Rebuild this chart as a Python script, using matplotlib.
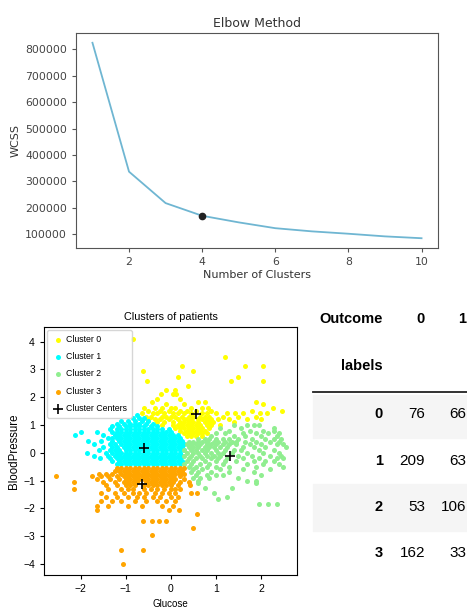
import matplotlib
matplotlib.use("Agg")
import matplotlib.pyplot as plt
from matplotlib.patches import Rectangle
from matplotlib.lines import Line2D

# ---------- data ----------
n_clusters = [1, 2, 3, 4, 5, 6, 7, 8, 9, 10]
wcss = [825000, 337000, 218000, 170000, 145000, 123000, 111000, 102000, 92000, 85000]
elbow_k = 4

# scatter points: {BloodPressure: [Glucose, ...]}
cluster0_rows = {
    4.08: [-0.84],
    3.45: [1.2],
    3.13: [0.24, 1.64, 2.05],
    2.94: [-0.61, 0.5],
    2.73: [0.16, 1.48],
    2.58: [-0.54, 1.33, 2.05],
    2.41: [0.37],
    2.25: [-0.1, 0.08],
    2.1: [-0.21, 0.05, 0.12],
    1.95: [-0.32, 0.2],
    1.83: [-0.43, 0.61, 0.76, 1.88],
    1.75: [-0.1, 0.3, 2.04],
    1.6: [-0.6, -0.35, -0.2, 0.0, 0.1, 0.45, 0.68, 0.82, 2.26],
    1.5: [-0.5, -0.25, -0.05, 0.2, 0.35, 0.55, 0.9, 1.79, 2.46],
    1.42: [-0.65, -0.4, -0.3, -0.15, 0.05, 0.15, 0.3, 0.45, 0.7, 0.8, 1.01, 1.24, 1.42, 1.61, 1.98, 2.14],
    1.3: [-0.55, -0.45, -0.2, -0.1, 0.0, 0.1, 0.25, 0.4, 0.5, 0.65, 0.75, 0.85, 1.16, 1.5, 1.9],
    1.2: [-0.5, -0.35, -0.25, -0.05, 0.15, 0.3, 0.35, 0.45, 0.6, 0.7, 0.8, 0.9, 1.05, 1.3, 1.7, 2.0],
    1.1: [-0.3, -0.15, 0.05, 0.2, 0.3, 0.4, 0.5, 0.6, 0.75, 0.85, 0.94, 1.4],
    1.0: [-0.2, 0.05, 0.15, 0.25, 0.35, 0.45, 0.55, 0.65, 0.8, 0.9, 1.1],
    0.9: [0.1, 0.2, 0.3, 0.4, 0.5, 0.6, 0.7, 0.85],
    0.8: [0.2, 0.35, 0.45, 0.55, 0.65, 0.75],
    0.7: [0.3, 0.4, 0.5, 0.6, 0.7, 0.8],
    0.6: [0.35, 0.45, 0.55, 0.7],
}
cluster1_rows = {
    1.35: [-0.75],
    1.25: [-0.85, -0.7, -0.6],
    1.15: [-1.1, -0.95, -0.8, -0.65, -0.5],
    1.05: [-1.2, -1.05, -0.9, -0.8, -0.7, -0.55, -0.4],
    0.95: [-1.3, -1.15, -1.0, -0.9, -0.8, -0.7, -0.6, -0.45, -0.3],
    0.85: [-1.35, -1.2, -1.1, -1.0, -0.9, -0.8, -0.7, -0.6, -0.5, -0.4, -0.3, -0.2, -0.05],
    0.76: [-2.0, -1.65, -1.3, -1.2, -1.1, -1.0, -0.9, -0.8, -0.7, -0.6, -0.5, -0.4, -0.3, -0.2, -0.1, 0.0],
    0.64: [-2.13, -1.5, -1.25, -1.15, -1.05, -0.95, -0.85, -0.75, -0.65, -0.55, -0.45, -0.35, -0.25, -0.15, -0.05, 0.05, 0.15],
    0.52: [-1.4, -1.3, -1.2, -1.1, -1.0, -0.9, -0.8, -0.7, -0.6, -0.5, -0.4, -0.3, -0.2, -0.1, 0.0, 0.1, 0.2],
    0.42: [-1.84, -1.55, -1.3, -1.15, -1.05, -0.95, -0.85, -0.75, -0.65, -0.55, -0.45, -0.35, -0.25, -0.15, -0.05, 0.05, 0.15, 0.25],
    0.3: [-1.7, -1.35, -1.25, -1.1, -1.0, -0.9, -0.8, -0.7, -0.6, -0.5, -0.4, -0.3, -0.2, -0.1, 0.0, 0.1, 0.2, 0.3],
    0.2: [-1.5, -1.3, -1.2, -1.05, -0.95, -0.85, -0.75, -0.65, -0.55, -0.45, -0.35, -0.25, -0.15, -0.05, 0.05, 0.15, 0.25],
    0.1: [-1.6, -1.35, -1.25, -1.15, -1.0, -0.9, -0.8, -0.7, -0.6, -0.5, -0.4, -0.3, -0.2, -0.1, 0.0, 0.1, 0.2, 0.3],
    0.0: [-1.86, -1.45, -1.3, -1.2, -1.1, -1.0, -0.9, -0.8, -0.7, -0.6, -0.5, -0.4, -0.3, -0.2, -0.1, 0.0, 0.1, 0.2],
    -0.1: [-1.7, -1.4, -1.25, -1.15, -1.05, -0.95, -0.85, -0.75, -0.65, -0.55, -0.45, -0.35, -0.25, -0.15, -0.05, 0.05, 0.15, 0.25],
    -0.2: [-1.58, -1.35, -1.2, -1.1, -1.0, -0.9, -0.8, -0.7, -0.6, -0.5, -0.4, -0.3, -0.2, -0.1, 0.0, 0.1, 0.2],
    -0.3: [-1.3, -1.15, -1.05, -0.95, -0.85, -0.75, -0.65, -0.55, -0.45, -0.35, -0.25, -0.15, -0.05, 0.05, 0.15, 0.25],
    -0.4: [-1.2, -1.1, -1.0, -0.9, -0.8, -0.7, -0.6, -0.5, -0.4, -0.3, -0.2, -0.1, 0.0, 0.1, 0.2],
}
cluster2_rows = {
    1.0: [1.4, 1.7, 1.85, 1.95],
    0.9: [1.1, 1.55, 2.3],
    0.8: [1.3, 1.75, 2.05, 2.3],
    0.7: [1.0, 1.2, 1.6, 1.9, 2.15, 2.4],
    0.6: [0.9, 1.4, 1.65, 2.0, 2.35],
    0.5: [0.6, 0.75, 0.85, 1.0, 1.15, 1.3, 1.5, 1.8, 2.1, 2.3, 2.45],
    0.4: [0.4, 0.5, 0.6, 0.7, 0.8, 0.95, 1.05, 1.2, 1.35, 1.45, 1.65, 1.9, 2.2, 2.4],
    0.3: [0.35, 0.45, 0.55, 0.65, 0.8, 0.9, 1.0, 1.15, 1.3, 1.45, 1.75, 2.0, 2.35, 2.5],
    0.2: [0.4, 0.5, 0.6, 0.75, 0.85, 0.95, 1.1, 1.25, 1.6, 1.85, 2.1, 2.55],
    0.1: [0.3, 0.45, 0.55, 0.7, 0.8, 1.0, 1.2, 1.4, 1.55, 1.95, 2.3],
    0.0: [0.35, 0.5, 0.6, 0.75, 0.9, 1.05, 1.15, 1.35, 1.7, 2.05, 2.4],
    -0.1: [0.3, 0.45, 0.65, 0.8, 0.95, 1.1, 1.5, 1.8, 2.2, 2.45],
    -0.2: [0.4, 0.55, 0.7, 0.9, 1.05, 1.25, 1.6, 1.95, 2.35, 2.5],
    -0.3: [0.35, 0.5, 0.75, 1.0, 1.2, 1.45, 1.85, 2.1, 2.3],
    -0.4: [0.3, 0.45, 0.65, 0.85, 1.15, 1.7, 2.05, 2.4],
    -0.5: [0.4, 0.55, 0.8, 1.0, 1.3, 1.9, 2.5],
    -0.6: [0.5, 0.7, 1.1, 1.6, 2.2],
    -0.7: [0.45, 0.6, 0.9, 1.3, 1.85],
    -0.8: [0.55, 0.8, 1.0, 1.15, 2.0],
    -0.9: [0.5, 0.65, 0.85, 1.5],
    -1.0: [0.6, 1.7, 1.9],
    -1.1: [0.6, 1.9],
    -1.25: [0.75, 1.35],
    -1.45: [0.95],
    -1.6: [1.25],
    -1.65: [1.05],
    -1.85: [1.95, 2.15, 2.35],
}
cluster3_rows = {
    -0.55: [-1.2, -1.1, -1.0, -0.9, -0.8, -0.7, -0.6, -0.5, -0.4, -0.3, -0.2, -0.1, 0.0, 0.1, 0.2, 0.3],
    -0.65: [-1.25, -1.15, -1.05, -0.95, -0.85, -0.75, -0.65, -0.55, -0.45, -0.35, -0.25, -0.15, -0.05, 0.05, 0.15, 0.25],
    -0.75: [-1.6, -1.45, -1.3, -1.1, -1.0, -0.9, -0.8, -0.7, -0.6, -0.5, -0.4, -0.3, -0.2, -0.1, 0.0, 0.1, 0.2, 0.3],
    -0.85: [-2.55, -1.75, -1.55, -1.4, -1.2, -1.05, -0.95, -0.85, -0.75, -0.65, -0.55, -0.45, -0.35, -0.25, -0.15, -0.05, 0.05, 0.2],
    -0.95: [-1.65, -1.35, -1.15, -1.0, -0.9, -0.8, -0.7, -0.6, -0.5, -0.4, -0.3, -0.2, -0.1, 0.0, 0.1, 0.3],
    -1.05: [-2.15, -1.5, -1.25, -1.05, -0.95, -0.85, -0.75, -0.55, -0.45, -0.35, -0.25, -0.15, -0.05, 0.05, 0.2, 0.4],
    -1.15: [-1.45, -1.2, -1.0, -0.9, -0.8, -0.6, -0.5, -0.4, -0.3, -0.2, -0.1, 0.0, 0.15, 0.43],
    -1.3: [-2.15, -1.4, -1.1, -0.95, -0.85, -0.6, -0.45, -0.3, -0.15, 0.0, 0.1, 0.2],
    -1.45: [-1.55, -1.25, -1.05, -0.85, -0.7, -0.55, -0.35, -0.2, -0.05, 0.1, 0.45, 0.58],
    -1.6: [-1.45, -1.2, -0.95, -0.75, -0.6, -0.4, -0.25, 0.0, 0.15],
    -1.75: [-1.55, -1.3, -1.1, -0.8, -0.55, -0.3, -0.1, 0.1],
    -1.9: [-1.65, -1.4, -0.95, -0.65, -0.2, 0.05],
    -2.05: [-1.65, -0.05, 0.17],
    -2.2: [0.58],
    -2.45: [-0.63, -0.42, -0.26, -0.1],
    -2.7: [0.5],
    -2.95: [-0.42],
    -3.5: [-1.1, -0.63],
    -4.0: [-1.07],
}
cluster_names = ["Cluster 0", "Cluster 1", "Cluster 2", "Cluster 3"]
cluster_colors = ["yellow", "cyan", "lightgreen", "orange"]
centers_x = [0.55, -0.6, 1.31, -0.64]
centers_y = [1.41, 0.19, -0.12, -1.13]

# crosstab labels x Outcome
table_index = ["0", "1", "2", "3"]
outcome_0 = [76, 209, 53, 162]
outcome_1 = [66, 63, 106, 33]

NARROW = ["Liberation Sans", "DejaVu Sans"]


def rows_to_xy(rows):
    xs, ys = [], []
    for y, xlist in rows.items():
        for x in xlist:
            xs.append(x)
            ys.append(y)
    return xs, ys


W, H = 467, 610
fig = plt.figure(figsize=(W / 100, H / 100), dpi=100)


def fx(px):
    return px / W


def fy(py):
    return 1 - py / H


# ---------- Elbow ----------
ax1 = fig.add_axes([fx(76), fy(248), fx(438) - fx(76), fy(33) - fy(248)])
ax1.plot(n_clusters, wcss, color="#6fb6d2", lw=1.3)
ax1.plot(elbow_k, wcss[elbow_k - 1], "o", color="#222222", ms=4.5)
ax1.set_title("Elbow Method", fontsize=9, color="#333333", pad=4)
ax1.set_xlabel("Number of Clusters", fontsize=8, color="#333333", labelpad=2)
ax1.set_ylabel("WCSS", fontsize=8, color="#333333", labelpad=3)
ax1.tick_params(labelsize=7.8, labelcolor="#444444", length=3, color="#555555")
ax1.set_xticks([2, 4, 6, 8, 10])
for s in ax1.spines.values():
    s.set_color("#555555")

# ---------- Clusters scatter ----------
ax2 = fig.add_axes([fx(44), fy(575), fx(297) - fx(44), fy(327) - fy(575)])
for rows, name, col in zip([cluster0_rows, cluster1_rows, cluster2_rows, cluster3_rows],
                           cluster_names, cluster_colors):
    xs, ys = rows_to_xy(rows)
    ax2.scatter(xs, ys, s=13, c=col, linewidths=0, label=name)
ax2.scatter(centers_x, centers_y, s=60, c="black", marker="+", linewidths=1.2,
            label="Cluster Centers")
ax2.set_xlim(-2.82, 2.8)
ax2.set_ylim(-4.4, 4.53)
ax2.set_xticks([-2, -1, 0, 1, 2])
ax2.set_yticks([-4, -3, -2, -1, 0, 1, 2, 3, 4])
ax2.tick_params(labelsize=7.5, labelfontfamily=NARROW, length=3)
ax2.set_title("Clusters of patients", fontsize=7.8, family=NARROW, pad=5)
ax2.set_xlabel("Glucose", fontsize=7, family=NARROW)
ax2.set_ylabel("BloodPressure", fontsize=8.3, family=NARROW)
ax2.xaxis.set_label_coords(0.5, -0.095)
ax2.yaxis.set_label_coords(-0.095, 0.5)
ax2.legend(loc="upper left", prop={"family": NARROW, "size": 6.3}, handletextpad=0.3,
           borderpad=0.55, labelspacing=0.95, borderaxespad=0.35, handlelength=1.3)

# ---------- crosstab table ----------
hdr = dict(fontsize=10.5, family=NARROW, fontweight="bold", va="center")
for py0, py1 in [(395, 438), (484, 531)]:
    fig.patches.append(Rectangle((fx(313), fy(py1)), fx(467) - fx(313), fy(py0) - fy(py1),
                                 transform=fig.transFigure, color="#f5f5f5", zorder=0))
fig.add_artist(Line2D([fx(313), fx(467)], [fy(391.5), fy(391.5)], color="#222222", lw=1.3))

fig.text(fx(383), fy(319), "Outcome", ha="right", **hdr)
fig.text(fx(425), fy(319), "0", ha="right", **hdr)
fig.text(fx(466), fy(319), "1", ha="right", **hdr)
fig.text(fx(383), fy(366), "labels", ha="right", **hdr)
row_y = [414, 461, 507, 553]
for lab, v0, v1, py in zip(table_index, outcome_0, outcome_1, row_y):
    fig.text(fx(383), fy(py), lab, ha="right", **hdr)
    fig.text(fx(425), fy(py), str(v0), ha="right", va="center", fontsize=11, family=NARROW)
    fig.text(fx(466), fy(py), str(v1), ha="right", va="center", fontsize=11, family=NARROW)

fig.savefig("out.png", dpi=100)
